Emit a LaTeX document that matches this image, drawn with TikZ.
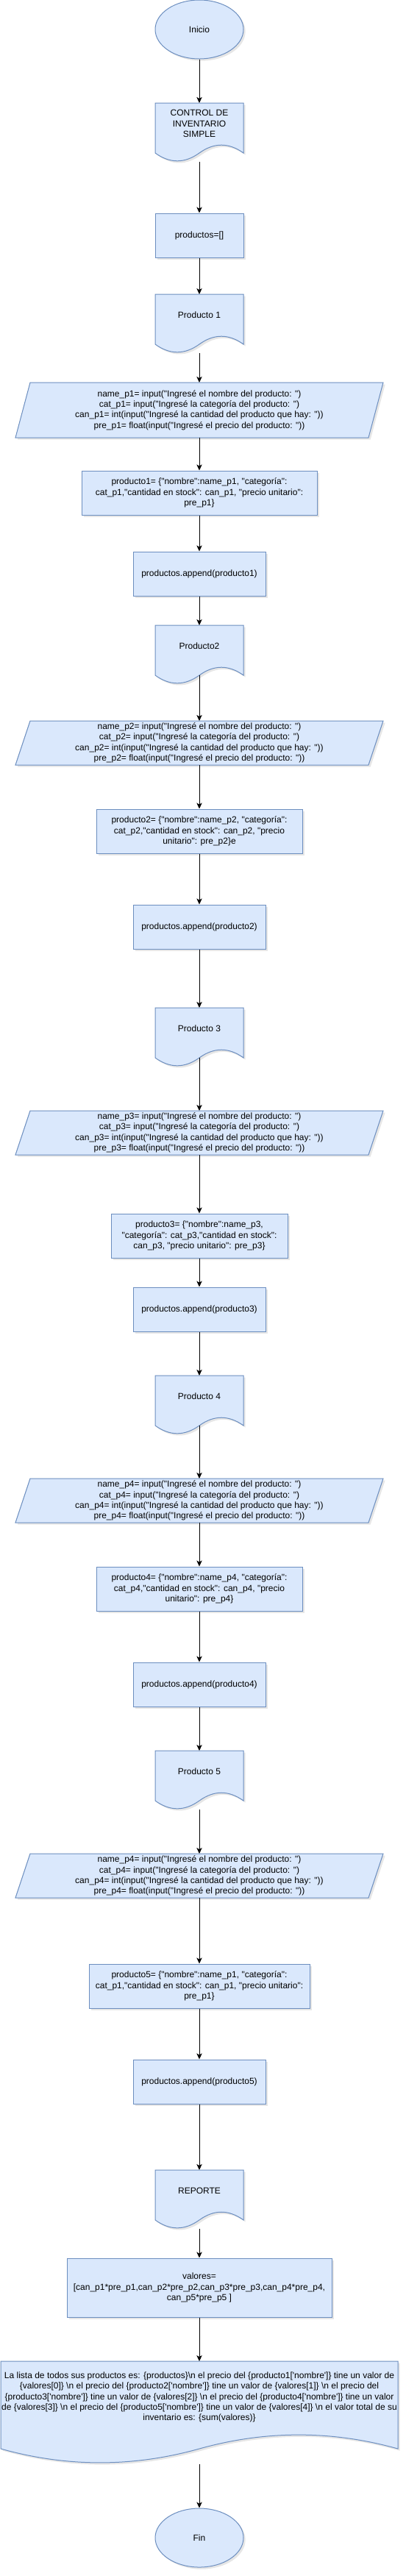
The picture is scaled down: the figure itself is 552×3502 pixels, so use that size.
\documentclass[tikz,border=0pt]{standalone}
\usepackage{fontspec}
\newfontfamily\df{Liberation Sans}
\usetikzlibrary{shapes.geometric,shadows,arrows.meta}
\definecolor{boxfill}{HTML}{DAE8FC}
\definecolor{boxline}{HTML}{6C8EBF}
\tikzset{
 shp/.style={fill=boxfill, draw=boxline, line width=0.75pt, drop shadow={shadow xshift=2pt,shadow yshift=-2pt,opacity=0.2}},
 txt/.style={font=\df\fontsize{9pt}{10.8pt}\selectfont, align=center, inner sep=0pt, text=black},
 procbox/.style={shp, txt, rectangle, minimum height=45pt},
 term/.style={shp, txt, ellipse, minimum width=90pt, minimum height=60pt},
 arr/.style={-{Stealth[length=6pt,width=5.5pt,inset=1.5pt]}, line width=0.75pt, draw=black},
}
% document shape: #1 name, #2 cx, #3 top, #4 w, #5 h, #6 text
\newcommand\docshape[6]{%
  \pgfmathsetmacro\dsL{#2-#4/2}%
  \pgfmathsetmacro\dsR{#2+#4/2}%
  \pgfmathsetmacro\dsyA{#3+0.85*#5}%
  \pgfmathsetmacro\dsyB{#3+0.67*#5}%
  \pgfmathsetmacro\dsyC{#3+1.03*#5}%
  \pgfmathsetmacro\dsxA{\dsL+0.8333*#4}%
  \pgfmathsetmacro\dsxB{\dsL+0.6667*#4}%
  \pgfmathsetmacro\dsxC{\dsL+0.3333*#4}%
  \pgfmathsetmacro\dsxD{\dsL+0.1667*#4}%
  \filldraw[shp] (\dsL,#3) -- (\dsR,#3) -- (\dsR,\dsyA) .. controls (\dsxA,\dsyB) and (\dsxB,\dsyB) .. (#2,\dsyA) .. controls (\dsxC,\dsyC) and (\dsxD,\dsyC) .. (\dsL,\dsyA) -- cycle;
  \node[txt] (#1) at (#2,{#3+0.35*#5}) {#6};
  \coordinate (#1-top) at (#2,#3);
  \coordinate (#1-wave) at (#2,\dsyA);
  \coordinate (#1-bot) at (#2,{#3+#5});
}
% parallelogram: #1 name, #2 cy, #3 h, #4 text
\newcommand\paranode[4]{%
  \filldraw[shp] (41,{#2-#3/2}) -- (521,{#2-#3/2}) -- (501,{#2+#3/2}) -- (21,{#2+#3/2}) -- cycle;
  \node[txt] (#1) at (271,#2) {#4};
  \coordinate (#1-top) at (271,{#2-#3/2});
  \coordinate (#1-bot) at (271,{#2+#3/2});
}
\begin{document}
\begin{tikzpicture}[x=0.75pt,y=-0.75pt]
\useasboundingbox (0,0) rectangle (552,3502);

\node[term] (ini) at (271,40) {Inicio};
\docshape{ctrl}{271}{140}{120}{80}{CONTROL DE\\INVENTARIO\\SIMPLE}
\node[procbox, minimum width=90pt] (plist) at (271,320) {productos=[]};

% ---- producto 1
\docshape{d1}{271}{400}{120}{80}{Producto 1}
\paranode{p1}{557.5}{75}{name\_p1= input("Ingresé el nombre del producto: ")\\cat\_p1= input("Ingresé la categoría del producto: ")\\can\_p1= int(input("Ingresé la cantidad del producto que hay: "))\\pre\_p1= float(input("Ingresé el precio del producto: "))}
\node[procbox, minimum width=240pt] (pr1) at (271,670) {producto1= \{"nombre":name\_p1, "categoría":\\cat\_p1,"cantidad en stock": can\_p1, "precio unitario":\\pre\_p1\}};
\node[procbox, minimum width=135pt] (ap1) at (271,780) {productos.append(producto1)};

% ---- producto 2
\docshape{d2}{271}{850}{120}{80}{Producto2}
\paranode{p2}{1010}{60}{name\_p2= input("Ingresé el nombre del producto: ")\\cat\_p2= input("Ingresé la categoría del producto: ")\\can\_p2= int(input("Ingresé la cantidad del producto que hay: "))\\pre\_p2= float(input("Ingresé el precio del producto: "))}
\node[procbox, minimum width=210pt] (pr2) at (271,1130) {producto2= \{"nombre":name\_p2, "categoría":\\cat\_p2,"cantidad en stock": can\_p2, "precio\\unitario": pre\_p2\}e};
\node[procbox, minimum width=135pt] (ap2) at (271,1260) {productos.append(producto2)};

% ---- producto 3
\docshape{d3}{271}{1370}{120}{80}{Producto 3}
\paranode{p3}{1540}{60}{name\_p3= input("Ingresé el nombre del producto: ")\\cat\_p3= input("Ingresé la categoría del producto: ")\\can\_p3= int(input("Ingresé la cantidad del producto que hay: "))\\pre\_p3= float(input("Ingresé el precio del producto: "))}
\node[procbox, minimum width=180pt] (pr3) at (271,1680) {producto3= \{"nombre":name\_p3,\\"categoría": cat\_p3,"cantidad en stock":\\can\_p3, "precio unitario": pre\_p3\}};
\node[procbox, minimum width=135pt] (ap3) at (271,1780) {productos.append(producto3)};

% ---- producto 4
\docshape{d4}{271}{1870}{120}{80}{Producto 4}
\paranode{p4}{2040}{60}{name\_p4= input("Ingresé el nombre del producto: ")\\cat\_p4= input("Ingresé la categoría del producto: ")\\can\_p4= int(input("Ingresé la cantidad del producto que hay: "))\\pre\_p4= float(input("Ingresé el precio del producto: "))}
\node[procbox, minimum width=210pt] (pr4) at (271,2160) {producto4= \{"nombre":name\_p4, "categoría":\\cat\_p4,"cantidad en stock": can\_p4, "precio\\unitario": pre\_p4\}};
\node[procbox, minimum width=135pt] (ap4) at (271,2290) {productos.append(producto4)};

% ---- producto 5
\docshape{d5}{271}{2380}{120}{80}{Producto 5}
\paranode{p5}{2550}{60}{name\_p4= input("Ingresé el nombre del producto: ")\\cat\_p4= input("Ingresé la categoría del producto: ")\\can\_p4= int(input("Ingresé la cantidad del producto que hay: "))\\pre\_p4= float(input("Ingresé el precio del producto: "))}
\node[procbox, minimum width=225pt] (pr5) at (271,2700) {producto5= \{"nombre":name\_p1, "categoría":\\cat\_p1,"cantidad en stock": can\_p1, "precio unitario":\\pre\_p1\}};
\node[procbox, minimum width=135pt] (ap5) at (271,2830) {productos.append(producto5)};

% ---- reporte
\docshape{rep}{271}{2950}{120}{80}{REPORTE}
\node[procbox, minimum width=270pt, minimum height=60pt] (val) at (271,3110) {valores=\\{[}can\_p1*pre\_p1,can\_p2*pre\_p2,can\_p3*pre\_p3,can\_p4*pre\_p4,\\can\_p5*pre\_p5 ]};
\docshape{out}{271}{3210}{540}{140}{La lista de todos sus productos es: \{productos\}\textbackslash n el precio del \{producto1['nombre']\} tine un valor de\\\{valores[0]\} \textbackslash n el precio del \{producto2['nombre']\} tine un valor de \{valores[1]\} \textbackslash n el precio del\\\{producto3['nombre']\} tine un valor de \{valores[2]\} \textbackslash n el precio del \{producto4['nombre']\} tine un valor\\de \{valores[3]\} \textbackslash n el precio del \{producto5['nombre']\} tine un valor de \{valores[4]\} \textbackslash n el valor total de su\\inventario es: \{sum(valores)\}}
\node[term] (fin) at (271,3450) {Fin};

% ---- connectors
\draw[arr] (ini.south) -- (ctrl-top);
\draw[arr] (ctrl-bot) -- (plist.north);
\draw[arr] (plist.south) -- (d1-top);
\draw[arr] (d1-bot) -- (p1-top);
\draw[arr] (p1-bot) -- (pr1.north);
\draw[arr] (pr1.south) -- (ap1.north);
\draw[arr] (ap1.south) -- (d2-top);
\draw[arr] (d2-wave) -- (p2-top);
\draw[arr] (p2-bot) -- (pr2.north);
\draw[arr] (pr2.south) -- (ap2.north);
\draw[arr] (ap2.south) -- (d3-top);
\draw[arr] (d3-wave) -- (p3-top);
\draw[arr] (p3-bot) -- (pr3.north);
\draw[arr] (pr3.south) -- (ap3.north);
\draw[arr] (ap3.south) -- (d4-top);
\draw[arr] (d4-wave) -- (p4-top);
\draw[arr] (p4-bot) -- (pr4.north);
\draw[arr] (pr4.south) -- (ap4.north);
\draw[arr] (ap4.south) -- (d5-top);
\draw[arr] (d5-bot) -- (p5-top);
\draw[arr] (p5-bot) -- (pr5.north);
\draw[arr] (pr5.south) -- (ap5.north);
\draw[arr] (ap5.south) -- (rep-top);
\draw[arr] (rep-bot) -- (val.north);
\draw[arr] (val.south) -- (out-top);
\draw[arr] (out-bot) -- (fin.north);
\end{tikzpicture}
\end{document}
